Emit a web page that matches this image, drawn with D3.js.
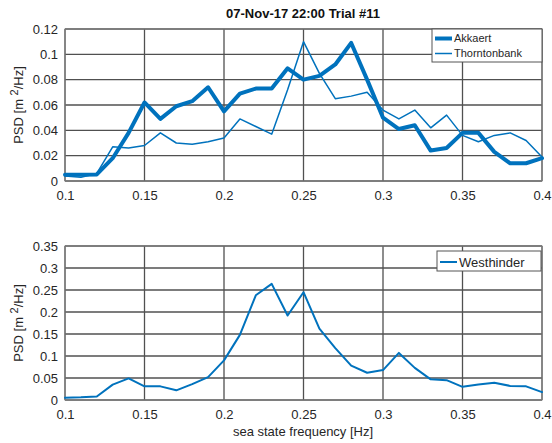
<!DOCTYPE html>
<html>
<head>
<meta charset="utf-8">
<script src="https://cdn.jsdelivr.net/npm/d3@7"></script>
<style>
  html, body { margin: 0; padding: 0; background: #fff; }
  svg { display: block; font-family: "Liberation Sans", Arial, sans-serif; }
</style>
</head>
<body>
<svg id="chart" width="552" height="443"></svg>
<script>
// Sea state spectra, frequency grid 0.10 .. 0.40 Hz
const freq = [0.10,0.11,0.12,0.13,0.14,0.15,0.16,0.17,0.18,0.19,0.20,0.21,0.22,0.23,0.24,0.25,
              0.26,0.27,0.28,0.29,0.30,0.31,0.32,0.33,0.34,0.35,0.36,0.37,0.38,0.39,0.40];
const akkaert = [0.005,0.005,0.0052,0.018,0.038,0.062,0.049,0.059,0.063,0.074,0.055,0.069,0.073,0.073,0.089,0.080,
                 0.083,0.092,0.109,0.080,0.050,0.041,0.044,0.024,0.026,0.038,0.038,0.023,0.014,0.014,0.018];
const thorntonbank = [0.004,0.003,0.006,0.027,0.026,0.028,0.038,0.030,0.029,0.031,0.034,0.049,0.043,0.037,0.072,0.110,
                      0.085,0.065,0.067,0.070,0.056,0.049,0.056,0.042,0.052,0.036,0.031,0.036,0.038,0.032,0.019];
const westhinder = [0.005,0.006,0.008,0.035,0.049,0.031,0.031,0.022,0.036,0.052,0.090,0.148,0.238,0.264,0.192,0.245,
                    0.162,0.118,0.078,0.062,0.068,0.107,0.073,0.047,0.045,0.030,0.035,0.039,0.032,0.031,0.018];

const xTicks = [0.1,0.15,0.2,0.25,0.3,0.35,0.4];
const yTicksTop = [0,0.02,0.04,0.06,0.08,0.1,0.12];
const yTicksBottom = [0,0.05,0.1,0.15,0.2,0.25,0.3,0.35];

const titleText = "07-Nov-17 22:00 Trial #11";
const xLabelText = "sea state frequency [Hz]";

const blue = "#0072BD";
const gridColor = "#505050";
const textColor = "#262626";

const svg = d3.select("#chart");

const left = 65, right = 542;

function panel(cfg) {
  const x = d3.scaleLinear().domain([0.1, 0.4]).range([left, right]);
  const y = d3.scaleLinear().domain(cfg.yDomain).range([cfg.bottom, cfg.top]);
  const g = svg.append("g");

  // grid
  g.append("g").selectAll("line.v").data(xTicks).join("line")
    .attr("x1", d => x(d)).attr("x2", d => x(d))
    .attr("y1", cfg.top).attr("y2", cfg.bottom)
    .attr("stroke", gridColor).attr("stroke-width", 1.3);
  g.append("g").selectAll("line.h").data(cfg.yTicks).join("line")
    .attr("x1", left).attr("x2", right)
    .attr("y1", d => y(d)).attr("y2", d => y(d))
    .attr("stroke", gridColor).attr("stroke-width", 1.3);

  // axes
  const xAxis = d3.axisBottom(x).tickValues(xTicks).tickSize(0).tickPadding(10)
    .tickFormat(d => d3.format("")(+d.toFixed(2)));
  const ax = g.append("g").attr("transform", `translate(0,${cfg.bottom})`).call(xAxis);
  const yAxis = d3.axisLeft(y).tickValues(cfg.yTicks).tickSize(0).tickPadding(7)
    .tickFormat(d => d3.format("")(+d.toFixed(2)));
  const ay = g.append("g").attr("transform", `translate(${left},0)`).call(yAxis);
  [ax, ay].forEach(a => {
    a.select(".domain").remove();
    a.selectAll("text").attr("fill", textColor).style("font-size", "13px")
      .style("font-family", "'Liberation Sans', Arial, sans-serif");
  });

  // box
  g.append("rect").attr("x", left).attr("y", cfg.top)
    .attr("width", right - left).attr("height", cfg.bottom - cfg.top)
    .attr("fill", "none").attr("stroke", "#808080").attr("stroke-width", 1);

  // series
  const line = d3.line().x((d, i) => x(freq[i])).y(d => y(d));
  cfg.series.forEach(s => {
    g.append("path").datum(s.values).attr("d", line)
      .attr("fill", "none").attr("stroke", blue).attr("stroke-width", s.width)
      .attr("stroke-linejoin", "round").attr("stroke-linecap", "round");
  });

  // y label
  const cy = (cfg.top + cfg.bottom) / 2;
  const yl = g.append("text")
    .attr("transform", `translate(23,${cy}) rotate(-90)`)
    .attr("text-anchor", "middle").attr("fill", textColor).style("font-size", "13px");
  yl.append("tspan").text("PSD [m ");
  yl.append("tspan").attr("dy", -5).style("font-size", "11px").text("2");
  yl.append("tspan").attr("dy", 5).text("/Hz]");

  // legend
  const L = cfg.legend;
  const lg = g.append("g");
  lg.append("rect").attr("x", L.x).attr("y", L.y).attr("width", L.w).attr("height", L.h)
    .attr("fill", "#fff").attr("stroke", "#555").attr("stroke-width", 1);
  cfg.series.forEach((s, i) => {
    const ly = L.y + L.first + i * L.step;
    lg.append("line").attr("x1", L.x + 3).attr("x2", L.x + 20)
      .attr("y1", ly).attr("y2", ly).attr("stroke", blue).attr("stroke-width", s.width);
    lg.append("text").attr("x", L.x + 22).attr("y", ly).attr("dy", "0.35em")
      .attr("fill", textColor).style("font-size", L.font).text(s.name);
  });
  return { x, y };
}

panel({
  top: 29, bottom: 181, yDomain: [0, 0.12], yTicks: yTicksTop,
  series: [
    { name: "Akkaert", values: akkaert, width: 4 },
    { name: "Thorntonbank", values: thorntonbank, width: 1.5 }
  ],
  legend: { x: 432, y: 29, w: 110, h: 33, first: 9.5, step: 15, font: "11px" }
});

panel({
  top: 246, bottom: 400, yDomain: [0, 0.35], yTicks: yTicksBottom,
  series: [
    { name: "Westhinder", values: westhinder, width: 2 }
  ],
  legend: { x: 437, y: 251, w: 104, h: 20, first: 11, step: 15, font: "13px" }
});

svg.append("text").attr("x", 303).attr("y", 18).attr("text-anchor", "middle")
  .attr("fill", "#111").style("font-size", "13px").style("font-weight", "bold").text(titleText);

svg.append("text").attr("x", 303).attr("y", 436).attr("text-anchor", "middle")
  .attr("fill", textColor).style("font-size", "13px").text(xLabelText);
</script>
</body>
</html>
